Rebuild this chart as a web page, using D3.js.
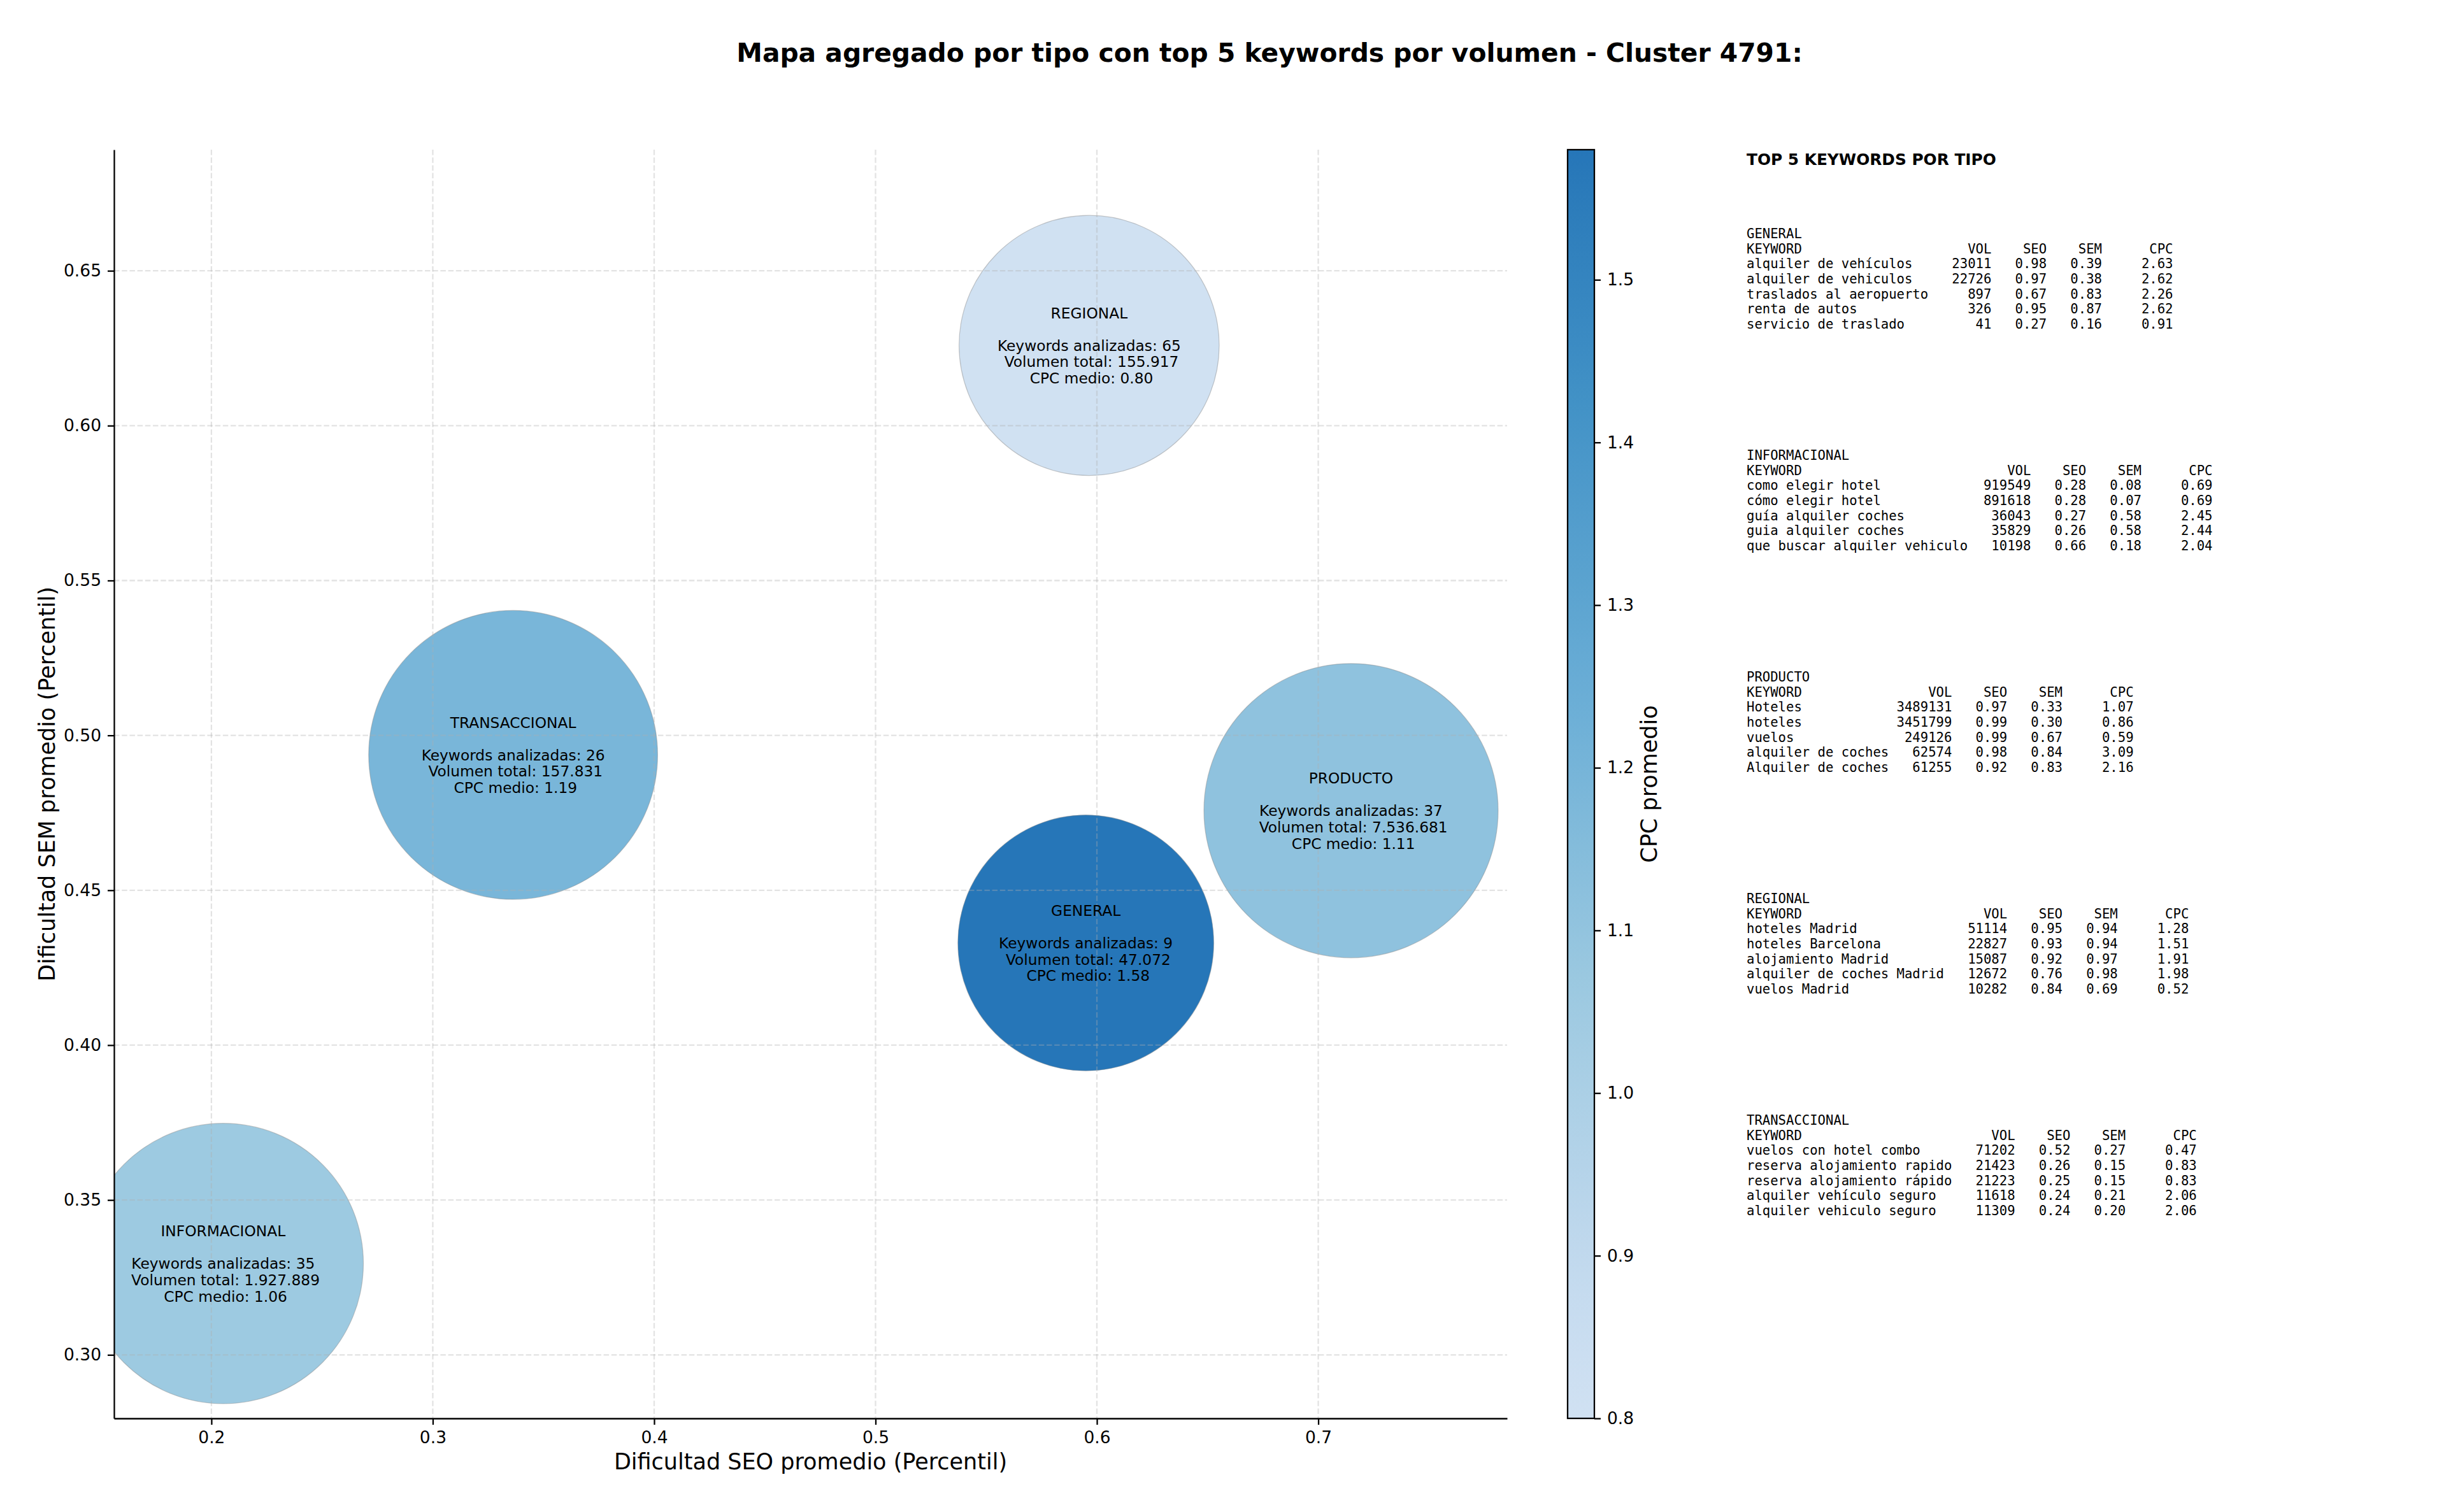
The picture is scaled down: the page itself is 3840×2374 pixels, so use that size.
<!DOCTYPE html>
<html>
<head>
<meta charset="utf-8">
<script src="https://cdn.jsdelivr.net/npm/d3@7"></script>
<style>
  body { margin: 0; background: #fff; }
  svg text { font-family: "DejaVu Sans", sans-serif; }
  .mono { font-family: "DejaVu Sans Mono", monospace; white-space: pre; }
</style>
</head>
<body>
<div id="chart"></div>
<script>
// aggregated values per search-intent type
const types = ['GENERAL', 'INFORMACIONAL', 'PRODUCTO', 'REGIONAL', 'TRANSACCIONAL'];
const seoAvg = [0.595, 0.2053, 0.7148, 0.5965, 0.3363];
const semAvg = [0.4330, 0.3295, 0.4757, 0.6259, 0.4937];
const cpcAvg = [1.58, 1.06, 1.11, 0.80, 1.19];
const kwCount = [9, 35, 37, 65, 26];
const volTotal = [47072, 1927889, 7536681, 155917, 157831];
const bubbleSize = [14900, 17900, 19700, 15400, 19000];   // marker area, pt^2

const xTicks = [0.2, 0.3, 0.4, 0.5, 0.6, 0.7];
const yTicks = [0.30, 0.35, 0.40, 0.45, 0.50, 0.55, 0.60, 0.65];
const cbTicks = [0.8, 0.9, 1.0, 1.1, 1.2, 1.3, 1.4, 1.5];

// top 5 keywords per type: keyword, volume, seo, sem, cpc
const kwGeneral = [
  ['alquiler de vehículos', 23011, 0.98, 0.39, 2.63],
  ['alquiler de vehiculos', 22726, 0.97, 0.38, 2.62],
  ['traslados al aeropuerto', 897, 0.67, 0.83, 2.26],
  ['renta de autos', 326, 0.95, 0.87, 2.62],
  ['servicio de traslado', 41, 0.27, 0.16, 0.91]
];
const kwInformacional = [
  ['como elegir hotel', 919549, 0.28, 0.08, 0.69],
  ['cómo elegir hotel', 891618, 0.28, 0.07, 0.69],
  ['guía alquiler coches', 36043, 0.27, 0.58, 2.45],
  ['guia alquiler coches', 35829, 0.26, 0.58, 2.44],
  ['que buscar alquiler vehiculo', 10198, 0.66, 0.18, 2.04]
];
const kwProducto = [
  ['Hoteles', 3489131, 0.97, 0.33, 1.07],
  ['hoteles', 3451799, 0.99, 0.30, 0.86],
  ['vuelos', 249126, 0.99, 0.67, 0.59],
  ['alquiler de coches', 62574, 0.98, 0.84, 3.09],
  ['Alquiler de coches', 61255, 0.92, 0.83, 2.16]
];
const kwRegional = [
  ['hoteles Madrid', 51114, 0.95, 0.94, 1.28],
  ['hoteles Barcelona', 22827, 0.93, 0.94, 1.51],
  ['alojamiento Madrid', 15087, 0.92, 0.97, 1.91],
  ['alquiler de coches Madrid', 12672, 0.76, 0.98, 1.98],
  ['vuelos Madrid', 10282, 0.84, 0.69, 0.52]
];
const kwTransaccional = [
  ['vuelos con hotel combo', 71202, 0.52, 0.27, 0.47],
  ['reserva alojamiento rapido', 21423, 0.26, 0.15, 0.83],
  ['reserva alojamiento rápido', 21223, 0.25, 0.15, 0.83],
  ['alquiler vehículo seguro', 11618, 0.24, 0.21, 2.06],
  ['alquiler vehiculo seguro', 11309, 0.24, 0.20, 2.06]
];
const topKeywords = [kwGeneral, kwInformacional, kwProducto, kwRegional, kwTransaccional];

const W = 3840, H = 2374;
const plot = { left: 179, right: 2366, top: 235, bottom: 2227 };
const ptPx = 210 / 72;

const svg = d3.select('#chart').append('svg')
  .attr('width', W).attr('height', H)
  .attr('viewBox', `0 0 ${W} ${H}`);

const x = d3.scaleLinear().domain([0.156, 0.7853]).range([plot.left, plot.right]);
const y = d3.scaleLinear().domain([0.2795, 0.6891]).range([plot.bottom, plot.top]);
const radius = d3.scaleSqrt().domain([0, 20000]).range([0, Math.sqrt(20000 / Math.PI) * ptPx]);

// matplotlib "Blues", using the 0.2 - 0.73 part of the ramp
const bluesStops = ['#f7fbff', '#deebf7', '#c6dbef', '#9ecae1', '#6baed6', '#4292c6', '#2171b5', '#08519c', '#08306b'];
const blues = d3.piecewise(d3.interpolateRgb, bluesStops);
const cpcDomain = d3.extent(cpcAvg);
const tScale = d3.scaleLinear().domain(cpcDomain).range([0.2, 0.73]);
const color = v => blues(tScale(v));

const es = d3.formatLocale({ decimal: ',', thousands: '.', grouping: [3], currency: ['', ''] });
const fmtVol = es.format(',d');

const data = types.map((t, i) => ({
  type: t, seo: seoAvg[i], sem: semAvg[i], cpc: cpcAvg[i],
  n: kwCount[i], vol: volTotal[i], size: bubbleSize[i]
}));

// title
svg.append('text')
  .attr('x', 1993).attr('y', 97)
  .attr('text-anchor', 'middle')
  .attr('font-size', 40.8).attr('font-weight', 'bold')
  .text('Mapa agregado por tipo con top 5 keywords por volumen - Cluster 4791:');

svg.append('clipPath').attr('id', 'plotClip')
  .append('rect')
  .attr('x', plot.left).attr('y', plot.top)
  .attr('width', plot.right - plot.left).attr('height', plot.bottom - plot.top);

// bubbles
svg.append('g').attr('clip-path', 'url(#plotClip)')
  .selectAll('circle').data(data).enter().append('circle')
  .attr('cx', d => x(d.seo))
  .attr('cy', d => y(d.sem))
  .attr('r', d => radius(d.size))
  .attr('fill', d => color(d.cpc))
  .attr('stroke', '#8a8a8a').attr('stroke-opacity', 0.45).attr('stroke-width', 1.2);

// grid
const grid = svg.append('g')
  .attr('stroke', '#b0b0b0').attr('stroke-opacity', 0.35)
  .attr('stroke-width', 2.3).attr('stroke-dasharray', '8.5,3.7');
grid.selectAll('.gx').data(xTicks).enter().append('line')
  .attr('x1', d => x(d)).attr('x2', d => x(d))
  .attr('y1', plot.top).attr('y2', plot.bottom);
grid.selectAll('.gy').data(yTicks).enter().append('line')
  .attr('y1', d => y(d)).attr('y2', d => y(d))
  .attr('x1', plot.left).attr('x2', plot.right);

// axes
const styleAxis = g => {
  g.attr('font-family', '"DejaVu Sans", sans-serif').attr('font-size', 26.5);
  g.select('.domain').attr('stroke', '#000').attr('stroke-width', 2.3);
  g.selectAll('.tick line').attr('stroke', '#000').attr('stroke-width', 2.3);
  g.selectAll('.tick text').attr('fill', '#000');
};

svg.append('g')
  .attr('transform', `translate(0,${plot.bottom})`)
  .call(d3.axisBottom(x).tickValues(xTicks).tickFormat(d3.format('.1f'))
    .tickSize(10).tickSizeOuter(0).tickPadding(10))
  .call(styleAxis);

svg.append('g')
  .attr('transform', `translate(${plot.left},0)`)
  .call(d3.axisLeft(y).tickValues(yTicks).tickFormat(d3.format('.2f'))
    .tickSize(10).tickSizeOuter(0).tickPadding(10))
  .call(styleAxis);

svg.append('text')
  .attr('x', (plot.left + plot.right) / 2).attr('y', 2307)
  .attr('text-anchor', 'middle').attr('font-size', 35)
  .text('Dificultad SEO promedio (Percentil)');

svg.append('text')
  .attr('transform', `translate(86,${(plot.top + plot.bottom) / 2}) rotate(-90)`)
  .attr('text-anchor', 'middle').attr('font-size', 35)
  .text('Dificultad SEM promedio (Percentil)');

// bubble labels
const lineH = 25.6;
const labels = svg.append('g').attr('font-size', 23.3).attr('text-anchor', 'middle');
data.forEach(d => {
  const lines = [d.type, '', `Keywords analizadas: ${d.n}`,
    ` Volumen total: ${fmtVol(d.vol)}`, ` CPC medio: ${d.cpc.toFixed(2)}`];
  const cx = x(d.seo), cy = y(d.sem);
  lines.forEach((s, k) => {
    if (!s) return;
    labels.append('text')
      .attr('x', cx).attr('y', cy + (k - 2) * lineH)
      .attr('dominant-baseline', 'central')
      .style('white-space', 'pre')
      .text(s);
  });
});

// colorbar
const cb = { x: 2461, w: 42 };
const cbScale = d3.scaleLinear().domain(cpcDomain).range([plot.bottom, plot.top]);
const grad = svg.append('defs').append('linearGradient')
  .attr('id', 'cbGrad').attr('x1', 0).attr('y1', 1).attr('x2', 0).attr('y2', 0);
d3.range(0, 1.0001, 0.05).forEach(f => {
  grad.append('stop').attr('offset', f)
    .attr('stop-color', color(cpcDomain[0] + f * (cpcDomain[1] - cpcDomain[0])));
});
svg.append('rect')
  .attr('x', cb.x).attr('y', plot.top)
  .attr('width', cb.w).attr('height', plot.bottom - plot.top)
  .attr('fill', 'url(#cbGrad)')
  .attr('stroke', '#000').attr('stroke-width', 2.3);

svg.append('g')
  .attr('transform', `translate(${cb.x + cb.w},0)`)
  .call(d3.axisRight(cbScale).tickValues(cbTicks).tickFormat(d3.format('.1f'))
    .tickSize(10).tickSizeOuter(0).tickPadding(10))
  .call(styleAxis)
  .call(g => g.select('.domain').remove());

svg.append('text')
  .attr('transform', `translate(2601,${(plot.top + plot.bottom) / 2}) rotate(-90)`)
  .attr('text-anchor', 'middle').attr('font-size', 35)
  .text('CPC promedio');

// keyword tables
const tx = 2742;
svg.append('text')
  .attr('x', tx).attr('y', 259)
  .attr('font-size', 24.8).attr('font-weight', 'bold')
  .text('TOP 5 KEYWORDS POR TIPO');

const rowH = 23.67, blockH = 348;
topKeywords.forEach((rows, i) => {
  const w = d3.max(rows, r => r[0].length);
  const lines = [
    types[i],
    'KEYWORD'.padEnd(w) + 'VOL'.padStart(8) + 'SEO'.padStart(7) + 'SEM'.padStart(7) + 'CPC'.padStart(9)
  ].concat(rows.map(r =>
    r[0].padEnd(w) + String(r[1]).padStart(8) + r[2].toFixed(2).padStart(7) +
    r[3].toFixed(2).padStart(7) + r[4].toFixed(2).padStart(9)));
  lines.forEach((s, k) => {
    svg.append('text')
      .attr('class', 'mono')
      .attr('x', tx).attr('y', 374 + i * blockH + k * rowH)
      .attr('font-size', 20.6)
      .text(s);
  });
});
</script>
</body>
</html>
